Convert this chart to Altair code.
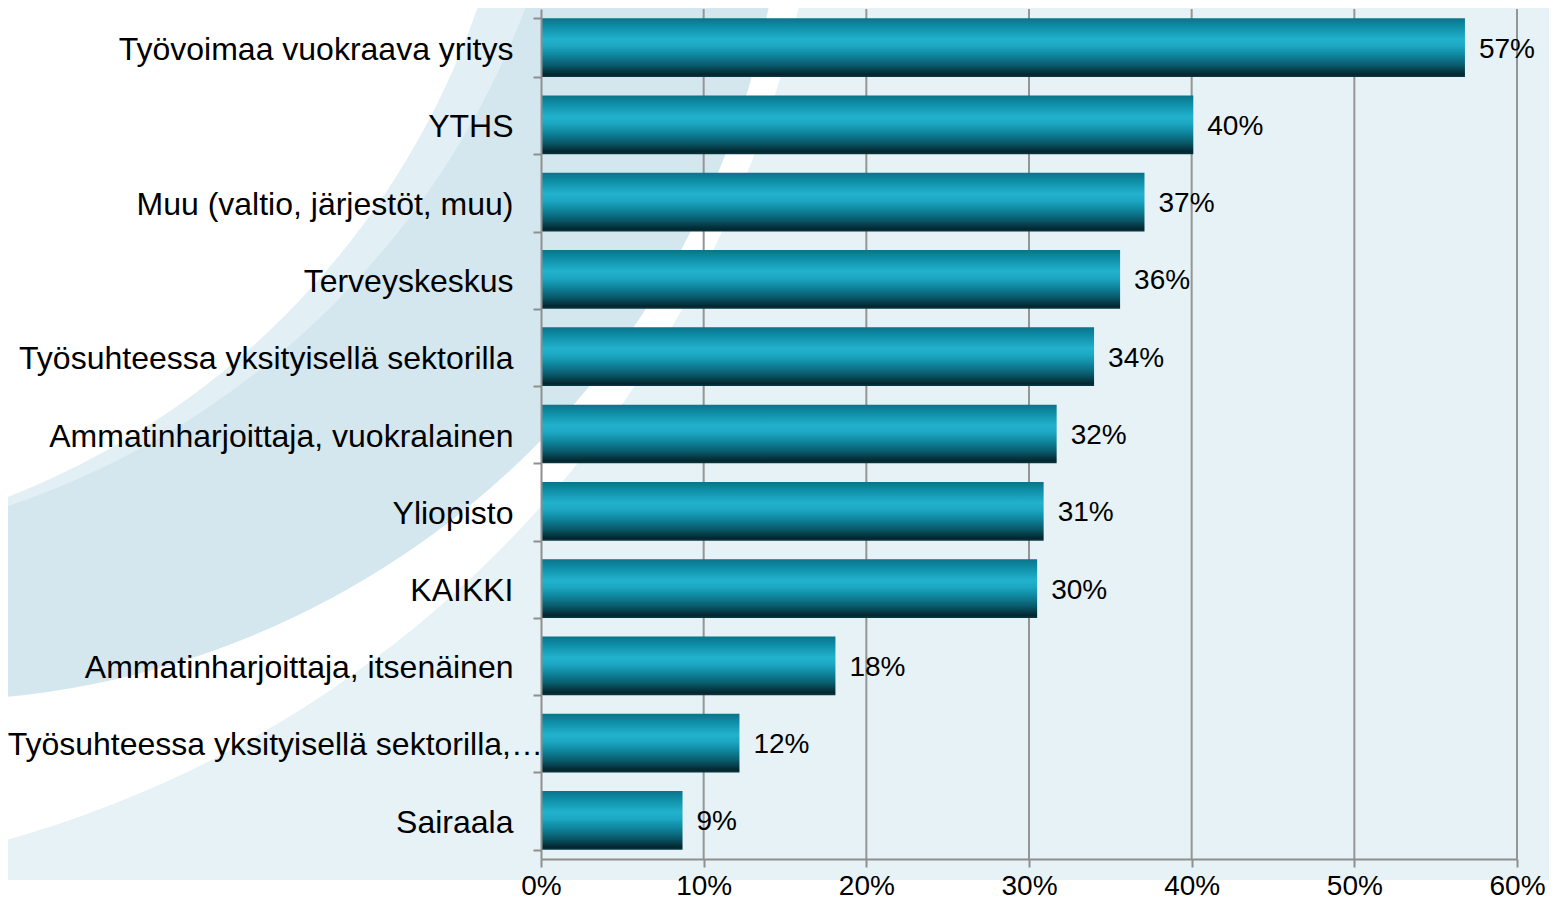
import altair as alt
import pandas as pd

categories = [
    "Työvoimaa vuokraava yritys",
    "YTHS",
    "Muu (valtio, järjestöt, muu)",
    "Terveyskeskus",
    "Työsuhteessa yksityisellä sektorilla",
    "Ammatinharjoittaja, vuokralainen",
    "Yliopisto",
    "KAIKKI",
    "Ammatinharjoittaja, itsenäinen",
    "Työsuhteessa yksityisellä sektorilla,…",
    "Sairaala",
]
values = [0.568, 0.401, 0.371, 0.356, 0.340, 0.317, 0.309, 0.305, 0.181, 0.122, 0.087]
value_labels = ["57%", "40%", "37%", "36%", "34%", "32%", "31%", "30%", "18%", "12%", "9%"]
tick_values = [0.0, 0.1, 0.2, 0.3, 0.4, 0.5, 0.6]

df = pd.DataFrame({"category": categories, "value": values, "label": value_labels})
grid_df = pd.DataFrame({"value": tick_values[1:]})
one = pd.DataFrame({"k": [0]})

W, H = 976, 850
FONT = "Liberation Sans"
CAT_FONT = 32

xenc = alt.X(
    "value:Q",
    scale=alt.Scale(domain=[0, 0.6], nice=False, zero=True),
    axis=alt.Axis(
        values=tick_values, format=".0%", title=None, grid=False,
        domainColor="#8f8f8f", domainWidth=2, tickColor="#8f8f8f", tickWidth=2,
        tickSize=8, labelFontSize=28, labelColor="black", labelFont=FONT,
        labelPadding=5, zindex=1, labelFlush=False,
    ),
)
yenc = alt.Y(
    "category:N",
    sort=categories,
    scale=alt.Scale(paddingInner=0.24, paddingOuter=0.12),
    axis=alt.Axis(
        title=None, grid=False, domainColor="#8f8f8f", domainWidth=2,
        tickColor="#8f8f8f", tickWidth=2, tickSize=8, tickBand="extent",
        labelFontSize=CAT_FONT, labelColor="black", labelFont=FONT, labelPadding=20,
        labelLimit=0, zindex=1, labelOffset=2,
        labelExpr="indexof(datum.label, '…') >= 0 ? '' : datum.label",
    ),
)

def disc(cx, cy, r, color):
    return alt.Chart(one).mark_arc(
        radius=r, theta=0, theta2=6.2832, color=color, stroke=None
    ).encode(x=alt.value(cx), y=alt.value(cy))

# decorative background swooshes (pixel space of plot area)
bg3 = disc(-839, -252, 1125, "#ffffff")
bg2 = disc(-618, -170, 862, "#d4e7ef")
bgs = disc(-801, -299, 840, "#e2eff4")
bg1 = disc(-829, -266, 810, "#ffffff")
bottom = alt.Chart(one).mark_rect(color="#ffffff").encode(
    x=alt.value(-541), x2=alt.value(1100), y=alt.value(871), y2=alt.value(1000)
)

grid = alt.Chart(grid_df).mark_rule(color="#959595", strokeWidth=2).encode(x=xenc)

gradient = alt.Gradient(
    gradient="linear",
    stops=[
        alt.GradientStop(color="#0b7389", offset=0),
        alt.GradientStop(color="#0d8aa3", offset=0.12),
        alt.GradientStop(color="#22b2cd", offset=0.36),
        alt.GradientStop(color="#1ca6c1", offset=0.48),
        alt.GradientStop(color="#0f88a0", offset=0.62),
        alt.GradientStop(color="#095a6b", offset=0.8),
        alt.GradientStop(color="#03262f", offset=0.96),
        alt.GradientStop(color="#0a3a45", offset=1),
    ],
    x1=0, x2=0, y1=0, y2=1,
)

bars = alt.Chart(df).mark_bar(color=gradient).encode(x=xenc, y=yenc)
text = alt.Chart(df).mark_text(
    align="left", baseline="middle", dx=14, dy=2, fontSize=28, font=FONT, color="black"
).encode(x=xenc, y=yenc, text="label:N")

# the truncated category label reaches up to the axis line, as in the original
long_label = alt.Chart(df).transform_filter(
    "indexof(datum.category, '…') >= 0"
).mark_text(
    align="right", baseline="middle", dy=2, fontSize=CAT_FONT, font=FONT, color="black"
).encode(y=yenc, x=alt.value(2), text="category:N")

chart = alt.layer(bg3, bg2, bgs, bg1, bottom, grid, bars, text, long_label).properties(
    width=W, height=H,
    autosize=alt.AutoSizeParams(type="none"),
    padding={"left": 533, "top": 1, "right": 32, "bottom": 45},
    background="#e6f2f6",
).configure_view(stroke=None)

chart.save("out.html", embed_options={"renderer": "svg", "actions": False})
